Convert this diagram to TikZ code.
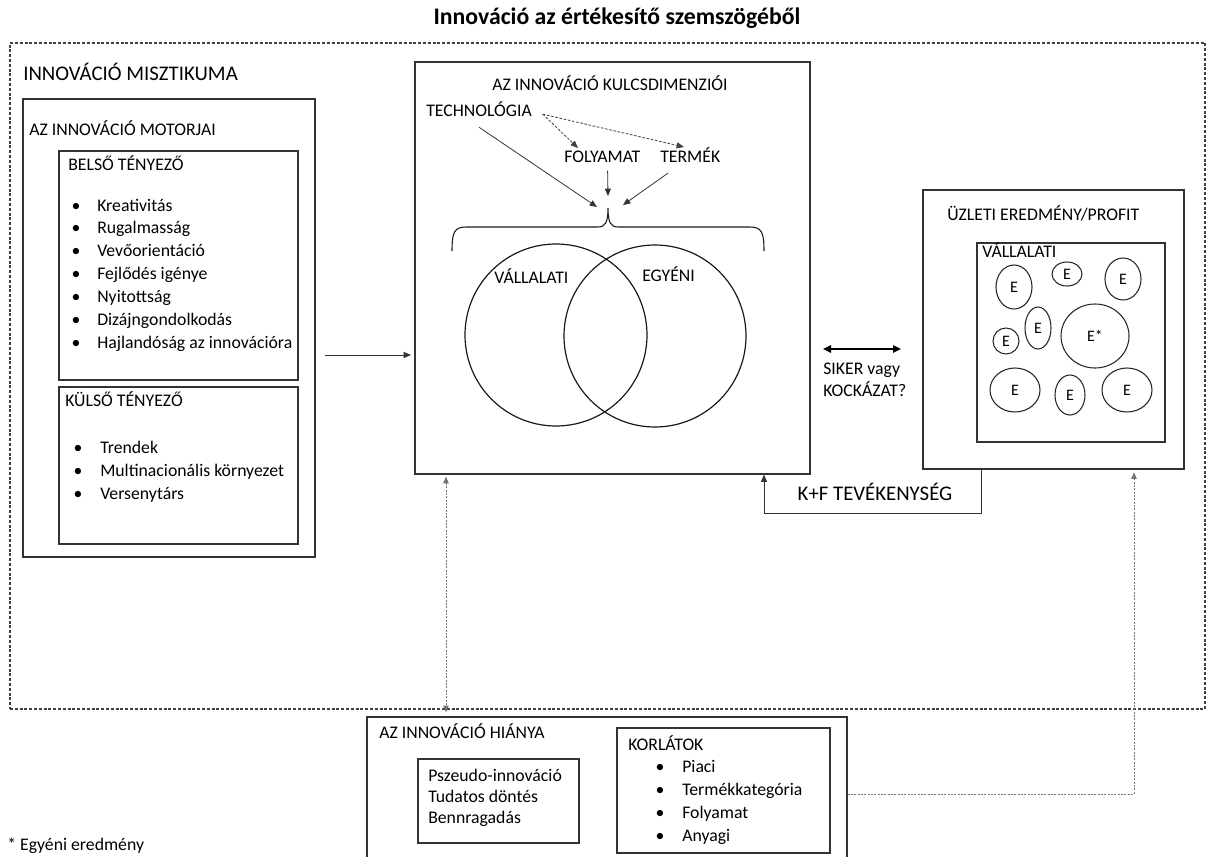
\documentclass[tikz,border=0pt]{standalone}
\usepackage{fontspec}
\setmainfont{Carlito}
\usetikzlibrary{arrows.meta,shapes.geometric,fit}
\begin{document}
\begin{tikzpicture}[x=0.75pt,y=-0.75pt,
  box/.style={draw=black!80,line width=0.9pt,inner sep=0pt},
  outerbox/.style={draw=black!75,line width=0.8pt,dash pattern=on 2.2pt off 1.4pt,inner sep=0pt},
  lab/.style={anchor=mid west,inner sep=0pt,font=\fontsize{13.3}{16}\selectfont},
  biglab/.style={anchor=mid west,inner sep=0pt,font=\fontsize{15.6}{18}\selectfont},
  ctr/.style={anchor=mid,inner sep=0pt,font=\fontsize{13.3}{16}\selectfont},
  tipa/.style={-{Triangle[length=5.5pt,width=4.5pt]}},
  conn/.style={draw=black!80,line width=0.6pt},
  dashc/.style={draw=black!75,line width=0.6pt,dash pattern=on 2pt off 1.2pt},
  dots/.style={draw=black!55,line width=0.7pt,dash pattern=on 1.5pt off 1pt},
  eb/.style={draw=black!85,line width=0.8pt,ellipse,inner sep=0pt,font=\fontsize{12}{14}\selectfont},
  circ/.style={draw=black!90,line width=0.9pt,circle,inner sep=0pt,minimum size=136.5pt},
]
\useasboundingbox (0,0) rectangle (1207,857);

% title
\node[anchor=mid,inner sep=0pt,font=\fontsize{17.8}{20}\selectfont\bfseries] (title) at (617,21) {Innováció az értékesítő szemszögéből};

% outer dashed frame
\node[outerbox,fit={(10,43) (1205,709)}] (outer) {};
\node[biglab] (miszt) at (23,77) {INNOVÁCIÓ MISZTIKUMA};

% motorjai
\node[box,fit={(23,99) (315,557)}] (motor) {};
\node[lab] (motorl) at (29,132) {AZ INNOVÁCIÓ MOTORJAI};
\node[box,fit={(59,151) (298,380)}] (belso) {};
\node[lab] (belsol) at (68,167) {BELSŐ TÉNYEZŐ};
\foreach \t [count=\i] in {Kreativitás,Rugalmasság,Vevőorientáció,Fejlődés igénye,Nyitottság,Dizájngondolkodás,Hajlandóság az innovációra}{
  \node[ctr] (bb\i) at (76,{185+22.9*\i}) {\textbullet};
  \node[lab] (bt\i) at (97,{185+22.9*\i}) {\t};
}
\node[box,fit={(59,387) (298,544)}] (kulso) {};
\node[lab] (kulsol) at (65,403) {KÜLSŐ TÉNYEZŐ};
\foreach \t [count=\i] in {Trendek,Multinacionális környezet,Versenytárs}{
  \node[ctr] (kb\i) at (78,{428+22.7*\i}) {\textbullet};
  \node[lab] (kt\i) at (100,{428+22.7*\i}) {\t};
}

% arrow motor -> center
\coordinate (ma1) at (325,355);
\coordinate (ma2) at (411,355);
\draw[conn,tipa] (ma1) -- (ma2);

% center box
\node[box,fit={(415,62) (810,474)}] (kd) {};
\node[ctr] (kdl) at (610,87) {AZ INNOVÁCIÓ KULCSDIMENZIÓI};
\node[lab] (tech) at (426,113) {TECHNOLÓGIA};
\node[lab] (foly) at (564,159) {FOLYAMAT};
\node[lab] (term) at (660,159) {TERMÉK};

\coordinate (tf) at (578,148);
\coordinate (tt) at (684,147);
\draw[dashc,tipa] ([shift={(8pt,-4pt)}]tech.east) -- (tf);
\draw[dashc,tipa] ([shift={(8pt,-4pt)}]tech.east) -- (tt);

\coordinate (ta) at (597,207);
\coordinate (fa) at (608,196);
\coordinate (ra) at (623,205);
\draw[conn,tipa] ([yshift=-8pt]tech.south) -- (ta);
\draw[conn,tipa] ([shift={(4pt,-6pt)}]foly.south) -- (fa);
\draw[conn,tipa] ([shift={(6pt,-8pt)}]term.south west) -- (ra);

% brace
\draw[black!90,line width=0.8pt] (452,251) .. controls (452,233) and (454,227) .. (466,227) -- (598,227)
  .. controls (605,227) and (608,223) .. (608,208)
  .. controls (608,223) and (611,227) .. (618,227) -- (750,227)
  .. controls (762,227) and (764,233) .. (764,251);

% venn
\node[circ] (cv) at (556,335) {};
\node[circ] (ce) at (655,336) {};
\node[lab] (cvl) at (494,280) {VÁLLALATI};
\node[lab] (cel) at (642,278) {EGYÉNI};

% siker
\coordinate (s1) at (823,349);
\coordinate (s2) at (901,349);
\draw[black,line width=1.3pt,{Triangle[length=6pt,width=5.5pt]}-{Triangle[length=6pt,width=5.5pt]}] (s1) -- (s2);
\node[lab] (sik1) at (823,371) {SIKER vagy};
\node[lab] (sik2) at (823,393) {KOCKÁZAT?};

% profit box
\node[box,fit={(923,190) (1184,469)}] (profit) {};
\node[lab] (profl) at (947,217) {ÜZLETI EREDMÉNY/PROFIT};
\node[box,fit={(977,243) (1165,442)}] (vall) {};
\node[lab] (valll) at (982,254) {VÁLLALATI};
\foreach \cx/\cy/\rx/\ry/\lb [count=\i] in {1014/287/18/22/E,1067/274/15/12/E,1123/279/18/21/E,1006/341/13/13/E,1038/328/13/21/E,1095/336/34/32/E*,1015/390/25/22/E,1070/395/15/20/E,1127/390/25/22/E}{
  \node[eb,minimum width={1.5pt*\rx},minimum height={1.5pt*\ry}] (e\i) at (\cx,\cy) {\lb};
}

% K+F
\coordinate (kf1) at (981,513);
\coordinate (kf2) at (764,513);
\draw[conn,tipa] (profit.south -| kf1) -- (kf1) -- (kf2) -- (kf2 |- kd.south);
\node[anchor=mid,inner sep=0pt,font=\fontsize{15.6}{18}\selectfont] (kfl) at (875,497) {K+F TEVÉKENYSÉG};

% bottom box
\node[box,fit={(367,717) (847,870)}] (hiany) {};
\node[lab] (hianyl) at (379,735) {AZ INNOVÁCIÓ HIÁNYA};
\node[box,fit={(418,759) (579,843)}] (pseudo) {};
\node[lab] (p1) at (428,778) {Pszeudo-innováció};
\node[lab] (p2) at (428,799) {Tudatos döntés};
\node[lab] (p3) at (428,820) {Bennragadás};
\node[box,fit={(617,728) (830,853)}] (korl) {};
\node[lab] (korll) at (628,747) {KORLÁTOK};
\foreach \t [count=\i] in {Piaci,Termékkategória,Folyamat,Anyagi}{
  \node[ctr] (kob\i) at (660,{746+23*\i}) {\textbullet};
  \node[lab] (kot\i) at (682,{746+23*\i}) {\t};
}

% dotted connectors
\coordinate (dx) at (446,600);
\draw[dots,{Triangle[length=5pt,width=4pt]}-{Triangle[length=5pt,width=4pt]}] ([yshift=-1.5pt]kd.south -| dx) -- ([yshift=3pt]hiany.north -| dx);
\coordinate (d3) at (1134,794);
\draw[dots,-{Triangle[length=5pt,width=4pt]}] (hiany.east |- d3) -- (d3) -- ([yshift=-2pt]d3 |- profit.south);

% footnote
\node[lab] (foot) at (7,847) {* Egyéni eredmény};
\end{tikzpicture}
\end{document}
